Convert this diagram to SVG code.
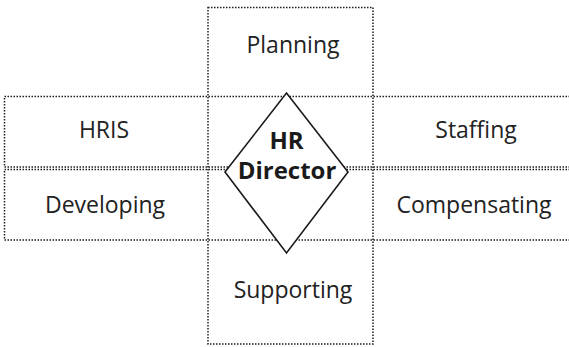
<svg xmlns="http://www.w3.org/2000/svg" width="569" height="347" viewBox="0 0 569 347">
<style>
.box{fill:none;stroke:#1e1e1e;stroke-width:1.5;stroke-dasharray:1.5 1.5}
.lbl{font-family:"Open Sans","Noto Sans",sans-serif;font-size:23px;fill:#222;text-anchor:middle}
.ctr{font-family:"Open Sans","Noto Sans",sans-serif;font-size:24px;font-weight:bold;fill:#1a1a1a;text-anchor:middle}
</style>
<rect width="569" height="347" fill="#fff"/>
<g id="grid">
<rect class="box" x="208" y="7.5" width="165" height="336.5"/>
<rect class="box" x="4.5" y="96.5" width="570" height="70.5"/>
<rect class="box" x="4.5" y="169.5" width="570" height="70.5"/>
</g>
<g id="planning"><text class="lbl" x="293" y="53">Planning</text></g>
<g id="hris"><text class="lbl" x="104" y="138">HRIS</text></g>
<g id="staffing"><text class="lbl" x="476" y="138">Staffing</text></g>
<g id="developing"><text class="lbl" x="105" y="213">Developing</text></g>
<g id="compensating"><text class="lbl" x="474" y="213">Compensating</text></g>
<g id="supporting"><text class="lbl" x="293" y="298">Supporting</text></g>
<g id="director">
<polygon points="286.5,93 348,172 286.5,253 225,172" fill="#fff" stroke="#1a1a1a" stroke-width="1.6"/>
<text class="ctr" x="286.5" y="149">HR</text>
<text class="ctr" x="287" y="179">Director</text>
</g>
</svg>
